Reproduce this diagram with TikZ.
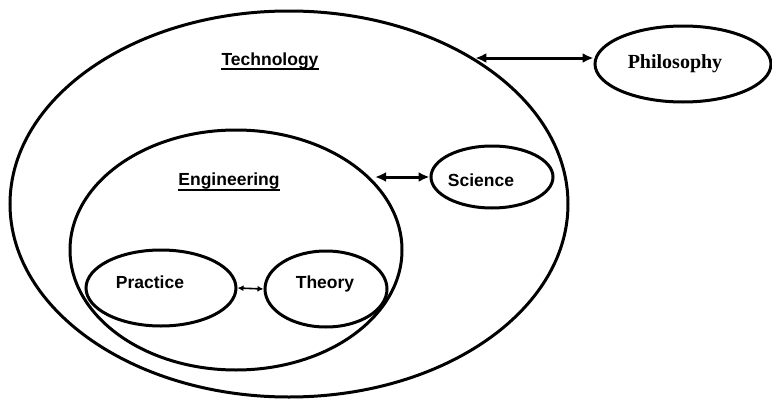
\documentclass[tikz,border=0pt]{standalone}
\usepackage{fontspec}
\setmainfont{Liberation Sans}
\newfontfamily\philfont{Liberation Serif}
\usetikzlibrary{shapes.geometric,arrows.meta}
\begin{document}
\begin{tikzpicture}[x=1pt,y=-1pt,
  oval/.style={draw,ellipse,line width=3pt,inner sep=0pt},
  lbl/.style={font=\fontsize{17.5}{20}\selectfont\bfseries,anchor=base,inner sep=0pt},
  uline/.style={line width=2.2pt},
  dbl/.style={line width=3pt,{Latex[length=11pt,width=10pt]}-{Latex[length=11pt,width=10pt]}},
  dblsmall/.style={line width=1.6pt,{Latex[length=6pt,width=6pt]}-{Latex[length=6pt,width=6pt]}}]
\useasboundingbox (0,0) rectangle (772,399);
% ovals
\node[oval,minimum width=558pt,minimum height=386pt] (tech) at (289,204) {};
\node[oval,minimum width=332pt,minimum height=240pt] (eng) at (236,250) {};
\node[oval,minimum width=122pt,minimum height=62pt] (sci) at (492,177) {};
\node[oval,minimum width=176pt,minimum height=76pt] (phil) at (683,64) {};
\node[oval,minimum width=150pt,minimum height=76pt] (prac) at (161,288) {};
\node[oval,minimum width=122pt,minimum height=76pt] (theo) at (326,289) {};
% labels
\node[lbl] (techl) at (270,65) {Technology};
\draw[uline] ([yshift=-4pt]techl.base west) -- ([yshift=-4pt]techl.base east);
\node[lbl] (engl) at (229,185) {Engineering};
\draw[uline] ([yshift=-5pt]engl.base west) -- ([yshift=-5pt]engl.base east);
\node[lbl] (scil) at (481,186) {Science};
\node[lbl] (pracl) at (150,288) {Practice};
\node[lbl] (theol) at (325,288) {Theory};
\node[anchor=base,inner sep=0pt,font=\philfont\fontsize{20}{24}\selectfont\bfseries] (phill) at (675,68) {Philosophy};
% connectors
\coordinate (t1) at ([xshift=4pt]tech.39);
\coordinate (p1) at ([yshift=6pt]phil.west);
\draw[dbl] (t1 |- p1) -- (p1);
\coordinate (e1) at ([xshift=4pt]eng.28);
\draw[dbl] (e1 |- sci.west) -- (sci.west);
\draw[dblsmall] (prac.east) -- (theo.west);
\end{tikzpicture}
\end{document}
